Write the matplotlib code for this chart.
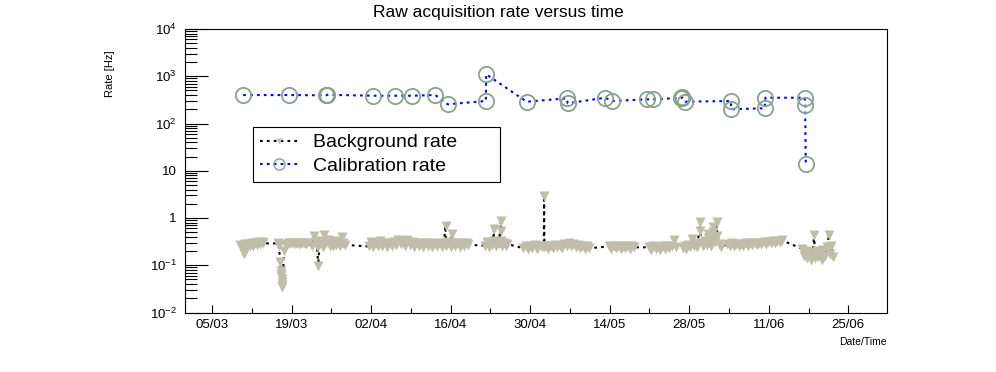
import datetime as dt

import matplotlib
matplotlib.use('Agg')
import matplotlib.pyplot as plt
import matplotlib.dates as mdates
import numpy as np
from matplotlib.lines import Line2D
from matplotlib.ticker import LogLocator, NullFormatter, FuncFormatter, FixedLocator

plt.rcParams['font.family'] = ['Liberation Sans', 'DejaVu Sans']
plt.rcParams['mathtext.fontset'] = 'custom'
plt.rcParams['mathtext.rm'] = 'Liberation Sans'

start = dt.datetime(2018, 3, 5)

# calibration runs: days after 05/03, rate in Hz
cal_days = [5.5, 13.6, 20.1, 20.2, 20.3, 28.3, 32.2, 35.2, 39.3, 41.5,
            48.2, 48.25, 55.4, 62.45, 62.6, 69.2, 70.4, 76.5, 77.7, 82.6,
            82.7, 82.8, 83.3, 91.3, 91.4, 97.3, 97.4, 104.3, 104.4, 104.5]
cal_rate = [400, 400, 395, 400, 405, 387, 387, 387, 401, 255,
            299, 1100, 289, 341, 268, 351, 299, 325, 325, 350,
            362, 355, 290, 299, 200, 210, 351, 351, 246, 13.9]

# background rate, one list per data-taking period
bg_days_a = [4.9, 5.2, 5.5, 5.6, 5.8, 6.1, 6.4, 6.7, 7.0, 7.3, 7.6, 7.9, 8.2, 8.5, 8.8, 9.0]
bg_rate_a = [0.27, 0.22, 0.25, 0.17, 0.28, 0.24, 0.28, 0.25, 0.29, 0.26, 0.30, 0.27, 0.31, 0.28, 0.31, 0.29]

bg_days_b = [11.6, 11.8, 12.0, 12.1, 12.15, 12.2, 12.25, 12.3, 12.35, 12.4, 12.7, 13.0]
bg_rate_b = [0.29, 0.25, 0.12, 0.075, 0.066, 0.058, 0.05, 0.044, 0.039, 0.035, 0.20, 0.27]

bg_days_c = [13.2, 13.5, 13.8, 14.1, 14.4, 14.7, 15.0, 15.3, 15.6, 15.9, 16.2, 16.5, 16.8]
bg_rate_c = [0.28, 0.30, 0.29, 0.30, 0.28, 0.29, 0.30, 0.28, 0.29, 0.30, 0.29, 0.28, 0.29]

bg_days_d = [17.6, 17.9, 18.2, 18.5, 18.7, 18.9, 19.2, 19.5, 19.8, 20.1,
             20.4, 20.7, 21.0, 21.3, 21.6, 21.9, 22.2, 22.5, 22.8, 23.1, 23.4]
bg_rate_d = [0.26, 0.42, 0.31, 0.25, 0.097, 0.27, 0.33, 0.24, 0.43, 0.29,
             0.34, 0.25, 0.31, 0.26, 0.32, 0.27, 0.31, 0.25, 0.40, 0.29, 0.27]

bg_days_e = [27.6, 28.0, 28.4, 28.8, 29.2, 29.6, 30.0, 30.4, 30.8, 31.2,
             31.6, 32.0, 32.4, 32.8, 33.2, 33.6, 34.0, 34.4, 34.8, 35.2,
             35.6, 36.0, 36.4, 36.8, 37.2, 37.6, 38.0, 38.4, 38.8, 39.2,
             39.6, 40.0, 40.4, 40.8, 41.1, 41.2, 41.6, 42.0, 42.2, 42.4,
             42.8, 43.2, 43.6, 44.0, 44.4, 44.8, 45.1]
bg_rate_e = [0.25, 0.31, 0.24, 0.29, 0.26, 0.32, 0.25, 0.30, 0.24, 0.29,
             0.26, 0.31, 0.27, 0.34, 0.28, 0.33, 0.26, 0.34, 0.27, 0.31,
             0.24, 0.29, 0.26, 0.30, 0.24, 0.29, 0.25, 0.30, 0.24, 0.28,
             0.26, 0.30, 0.24, 0.29, 0.68, 0.26, 0.31, 0.24, 0.45, 0.29,
             0.25, 0.30, 0.24, 0.29, 0.26, 0.30, 0.27]

bg_days_f = [48.1, 48.4, 48.7, 49.0, 49.3, 49.6, 49.6, 49.9, 50.2, 50.5,
             50.8, 50.8, 50.8, 51.1, 51.4, 51.7, 52.0]
bg_rate_f = [0.26, 0.31, 0.24, 0.30, 0.27, 0.58, 0.32, 0.25, 0.31, 0.28,
             0.86, 0.52, 0.33, 0.26, 0.30, 0.25, 0.28]

bg_days_g = [54.8, 55.2, 55.6, 56.0, 56.4, 56.8, 57.2, 57.6, 58.0, 58.4,
             58.45, 58.5, 58.8, 59.2, 59.6, 60.0, 60.4, 60.8, 61.2, 61.6,
             62.0, 62.4, 62.8, 63.2, 63.6, 64.0, 64.4, 64.8, 65.2, 65.6,
             66.0, 66.4]
bg_rate_g = [0.23, 0.26, 0.22, 0.25, 0.23, 0.27, 0.22, 0.26, 0.24, 0.25,
             2.9, 0.24, 0.26, 0.22, 0.25, 0.23, 0.27, 0.24, 0.26, 0.23,
             0.28, 0.25, 0.29, 0.26, 0.28, 0.24, 0.27, 0.23, 0.26, 0.22,
             0.25, 0.23]

bg_days_h = [69.9, 70.3, 70.7, 71.1, 71.5, 71.9, 72.3, 72.7, 73.1, 73.5, 73.9, 74.3]
bg_rate_h = [0.25, 0.22, 0.26, 0.23, 0.25, 0.22, 0.26, 0.23, 0.25, 0.22, 0.26, 0.24]

bg_days_i = [76.9, 77.3, 77.7, 78.1, 78.5, 78.9, 79.3, 79.7, 80.1, 80.5, 80.9, 81.3, 81.7]
bg_rate_i = [0.24, 0.21, 0.25, 0.22, 0.24, 0.21, 0.25, 0.22, 0.26, 0.23, 0.26, 0.34, 0.24]

bg_days_j = [82.9, 83.2, 83.5, 83.8, 84.1, 84.5, 84.8, 85.1, 85.4, 85.9,
             85.9, 86.2, 86.5, 86.8, 87.1, 87.3, 87.3, 87.6, 87.9, 88.2,
             88.2, 88.2, 88.5, 88.9, 88.9, 89.2, 89.5]
bg_rate_j = [0.23, 0.26, 0.22, 0.27, 0.24, 0.36, 0.25, 0.29, 0.24, 0.82,
             0.52, 0.30, 0.25, 0.33, 0.27, 0.45, 0.38, 0.30, 0.26, 0.66,
             0.50, 0.37, 0.31, 0.82, 0.42, 0.28, 0.24]

bg_days_k = [90.7, 91.1, 91.5, 91.9, 92.3, 92.7, 93.1, 93.5, 93.9, 94.3,
             94.7, 95.1, 95.5, 95.9, 96.3, 96.7, 97.1, 97.5, 97.9, 98.3,
             98.7, 99.1, 99.5, 99.9, 100.3]
bg_rate_k = [0.28, 0.25, 0.29, 0.26, 0.28, 0.25, 0.28, 0.26, 0.29, 0.26,
             0.29, 0.27, 0.30, 0.27, 0.30, 0.28, 0.31, 0.28, 0.31, 0.29,
             0.32, 0.30, 0.33, 0.31, 0.34]

bg_days_l = [103.9, 104.2, 104.5, 104.8, 105.1, 105.4, 105.7, 106.0, 106.1, 106.4,
             106.7, 107.0, 107.3, 107.6, 107.9, 108.2, 108.6, 108.7, 109.0, 109.3]
bg_rate_l = [0.22, 0.16, 0.20, 0.14, 0.19, 0.13, 0.18, 0.44, 0.14, 0.20,
             0.15, 0.19, 0.13, 0.21, 0.16, 0.24, 0.44, 0.17, 0.25, 0.15]

bg_days = np.concatenate([bg_days_a, bg_days_b, bg_days_c, bg_days_d, bg_days_e, bg_days_f,
                          bg_days_g, bg_days_h, bg_days_i, bg_days_j, bg_days_k, bg_days_l])
bg_rate = np.concatenate([bg_rate_a, bg_rate_b, bg_rate_c, bg_rate_d, bg_rate_e, bg_rate_f,
                          bg_rate_g, bg_rate_h, bg_rate_i, bg_rate_j, bg_rate_k, bg_rate_l])

bg_color = '#c0bea8'
cal_color = '#86a38f'
dots = (0, (1.3, 2.0))


def to_dates(days):
    return [start + dt.timedelta(days=float(d)) for d in days]


fig = plt.figure(figsize=(9.96, 3.72), dpi=100)
ax = fig.add_axes([185 / 996, 1 - 312.5 / 372, 702 / 996, 283.5 / 372])

ax.plot(to_dates(bg_days), bg_rate, ls=dots, color='black', lw=1.5,
        marker='v', ms=7.5, mfc=bg_color, mec='none')
ax.plot(to_dates(cal_days), cal_rate, ls=dots, color='blue', lw=1.5,
        marker='o', ms=11, mfc='none', mec=cal_color, mew=1.3)

ax.set_yscale('log')
ax.set_ylim(1e-2, 1e4)
ax.set_xlim(start - dt.timedelta(days=4.75), start + dt.timedelta(days=118.8))

# y axis: ROOT-like labels (1 and 10 written plainly)
def log_label(v, pos):
    e = int(round(np.log10(v)))
    if e == 0:
        return '1'
    if e == 1:
        return '10'
    return r'$\mathregular{10^{%d}}$' % e

ax.yaxis.set_major_locator(LogLocator(base=10, numticks=10))
ax.yaxis.set_minor_locator(LogLocator(base=10, subs=range(2, 10), numticks=100))
ax.yaxis.set_major_formatter(FuncFormatter(log_label))
ax.yaxis.set_minor_formatter(NullFormatter())

major_dates = [start + dt.timedelta(days=14 * k) for k in range(9)]
minor_dates = [start + dt.timedelta(days=7 + 14 * k) for k in range(8)]
ax.xaxis.set_major_locator(FixedLocator(mdates.date2num(major_dates)))
ax.xaxis.set_minor_locator(FixedLocator(mdates.date2num(minor_dates)))
ax.xaxis.set_major_formatter(mdates.DateFormatter('%d/%m'))

ax.tick_params(axis='y', which='major', direction='in', length=16.5, width=0.8,
               right=False, labelsize=9.5, pad=5.8)
ax.tick_params(axis='y', which='minor', direction='in', length=8.5, width=0.8, right=False)
ax.tick_params(axis='x', which='major', direction='in', length=6, width=0.8,
               top=False, labelsize=9.5, pad=5)
ax.tick_params(axis='x', which='minor', direction='in', length=3.5, width=0.8, top=False)
for s in ax.spines.values():
    s.set_linewidth(0.8)

handles = [
    Line2D([], [], ls=dots, color='black', lw=1.5, marker='v', ms=5,
           mfc=bg_color, mec='none'),
    Line2D([], [], ls=dots, color='blue', lw=1.5, marker='o', ms=8,
           mfc='none', mec=cal_color, mew=1.0),
]
leg = ax.legend(handles, ['Background rate', 'Calibration rate'],
                loc='upper left', mode='expand',
                bbox_to_anchor=(253 / 996, 1 - 187 / 372, 247 / 996, 60 / 372),
                bbox_transform=fig.transFigure, fontsize=14, frameon=True,
                fancybox=False, framealpha=1, edgecolor='black', borderpad=0.35,
                handlelength=2.0, handletextpad=0.75, labelspacing=0.3,
                borderaxespad=0)
leg.get_frame().set_linewidth(0.8)

fig.text(0.5, 1 - 13 / 372, 'Raw acquisition rate versus time',
         ha='center', va='center', fontsize=12.5)
fig.text(110 / 996, 1 - 50 / 372, 'Rate [Hz]', rotation=90,
         ha='center', va='top', fontsize=8)
fig.text(887 / 996, 1 - 342 / 372, 'Date/Time', ha='right', va='center', fontsize=7.5)

fig.savefig('out.png', dpi=100)
